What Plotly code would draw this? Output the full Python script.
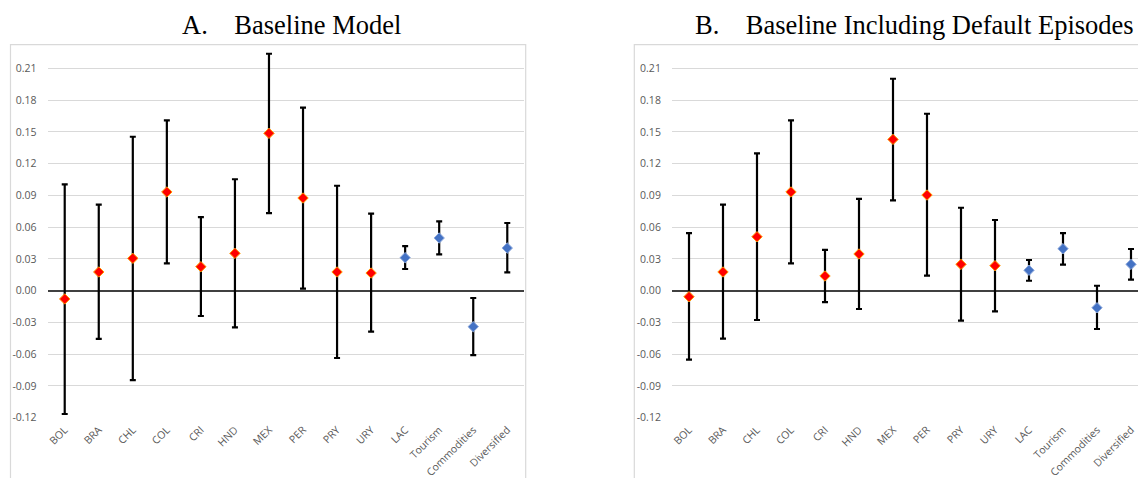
import plotly.graph_objects as go

categories = ["BOL", "BRA", "CHL", "COL", "CRI", "HND", "MEX", "PER", "PRY", "URY",
              "LAC", "Tourism", "Commodities", "Diversified"]
group = ["country"] * 10 + ["aggregate"] * 4

# Panel A: Baseline Model
a_point = [-0.0078, 0.0177, 0.0306, 0.0933, 0.0227, 0.0353, 0.1487, 0.0876, 0.0177, 0.0167,
           0.0312, 0.0498, -0.0340, 0.0403]
a_upper = [0.1005, 0.0813, 0.1455, 0.1610, 0.0696, 0.1053, 0.2240, 0.1730, 0.0992, 0.0728,
           0.0422, 0.0656, -0.0069, 0.0640]
a_lower = [-0.1165, -0.0456, -0.0844, 0.0259, -0.0239, -0.0346, 0.0734, 0.0019, -0.0636, -0.0387,
           0.0205, 0.0344, -0.0608, 0.0174]

# Panel B: Baseline Including Default Episodes
b_point = [-0.0057, 0.0177, 0.0510, 0.0933, 0.0139, 0.0347, 0.1430, 0.0904, 0.0249, 0.0236,
           0.0193, 0.0397, -0.0161, 0.0249]
b_upper = [0.0545, 0.0813, 0.1298, 0.1610, 0.0385, 0.0867, 0.2003, 0.1672, 0.0784, 0.0668,
           0.0290, 0.0545, 0.0047, 0.0394]
b_lower = [-0.0652, -0.0453, -0.0277, 0.0259, -0.0107, -0.0173, 0.0854, 0.0142, -0.0283, -0.0195,
           0.0094, 0.0246, -0.0362, 0.0104]

y_ticks = [-0.12, -0.09, -0.06, -0.03, 0.00, 0.03, 0.06, 0.09, 0.12, 0.15, 0.18, 0.21]
y_tick_text = [f"{v:.2f}" for v in y_ticks]

titles = ["A.\u2003Baseline Model", "B.\u2003Baseline Including Default Episodes"]

W, H = 1138, 478

def px(x):
    return x / W

def py(y):
    return 1 - y / H

fill = {"country": "#FF0000", "aggregate": "#4472C4"}
edge = {"country": "#FF9900", "aggregate": "#8FAADC"}

fig = go.Figure()

panels = [(a_point, a_upper, a_lower, "x", "y"), (b_point, b_upper, b_lower, "x2", "y2")]
for pt, up, lo, xa, ya in panels:
    fig.add_trace(go.Scatter(
        x=categories, y=pt, mode="markers", xaxis=xa, yaxis=ya, showlegend=False,
        marker=dict(symbol="diamond", size=8,
                    color=[fill[g] for g in group],
                    line=dict(color=[edge[g] for g in group], width=1)),
        error_y=dict(type="data", symmetric=False,
                     array=[u - p for u, p in zip(up, pt)],
                     arrayminus=[p - l for p, l in zip(pt, lo)],
                     color="#000000", thickness=2.2, width=3),
    ))

ydom = [py(417.7), py(52.6)]

tick_font = dict(family="Open Sans, Liberation Sans, sans-serif", size=10.5, color="#595959")

def yaxis_cfg(anchor):
    return dict(domain=ydom, range=[-0.12, 0.225], anchor=anchor,
                tickvals=y_ticks, ticktext=y_tick_text, tickfont=tick_font,
                showgrid=True, gridcolor="#D9D9D9", gridwidth=1,
                zeroline=True, zerolinecolor="#404040", zerolinewidth=1.5,
                showline=False, ticks="outside", ticklen=8, tickcolor="rgba(0,0,0,0)")

def xaxis_cfg(dom, rng, anchor):
    return dict(domain=dom, range=rng, anchor=anchor, type="category",
                tickangle=-45, tickfont=dict(family="Open Sans, Liberation Sans, sans-serif",
                                             size=10.5, color="#595959"),
                showgrid=False, zeroline=False, showline=False,
                ticks="outside", ticklen=1, tickcolor="rgba(0,0,0,0)")

fig.update_layout(
    width=W, height=H,
    margin=dict(l=0, r=0, t=0, b=0, autoexpand=False),
    paper_bgcolor="white", plot_bgcolor="white",
    xaxis=xaxis_cfg([px(47.7), px(524.3)], [-0.5, 13.5], "y"),
    yaxis=yaxis_cfg("x"),
    xaxis2=xaxis_cfg([px(672), 1.0], [-0.5, 13.5 - (1148 - 1138) / 34], "y2"),
    yaxis2=yaxis_cfg("x2"),
)

# chart frames
fig.add_shape(type="rect", xref="paper", yref="paper",
              x0=px(10.5), x1=px(525.7), y0=-0.05, y1=py(44.7),
              line=dict(color="#D9D9D9", width=1.2), layer="below")
fig.add_shape(type="rect", xref="paper", yref="paper",
              x0=px(634.3), x1=1.05, y0=-0.05, y1=py(44.7),
              line=dict(color="#D9D9D9", width=1.2), layer="below")

title_font = dict(family="Liberation Serif, Times New Roman, serif", size=26.5, color="#000000")
fig.add_annotation(text=titles[0], x=px(291.5), y=py(25), xref="paper", yref="paper",
                   showarrow=False, font=title_font, xanchor="center", yanchor="middle")
fig.add_annotation(text=titles[1], x=px(1136), y=py(25), xref="paper", yref="paper",
                   showarrow=False, font=title_font, xanchor="right", yanchor="middle")

fig.write_html(
    "out.html",
    config={"displayModeBar": False},
    post_script="document.body.style.margin='0';document.body.style.overflow='hidden';"
                "document.documentElement.style.overflow='hidden';",
)
